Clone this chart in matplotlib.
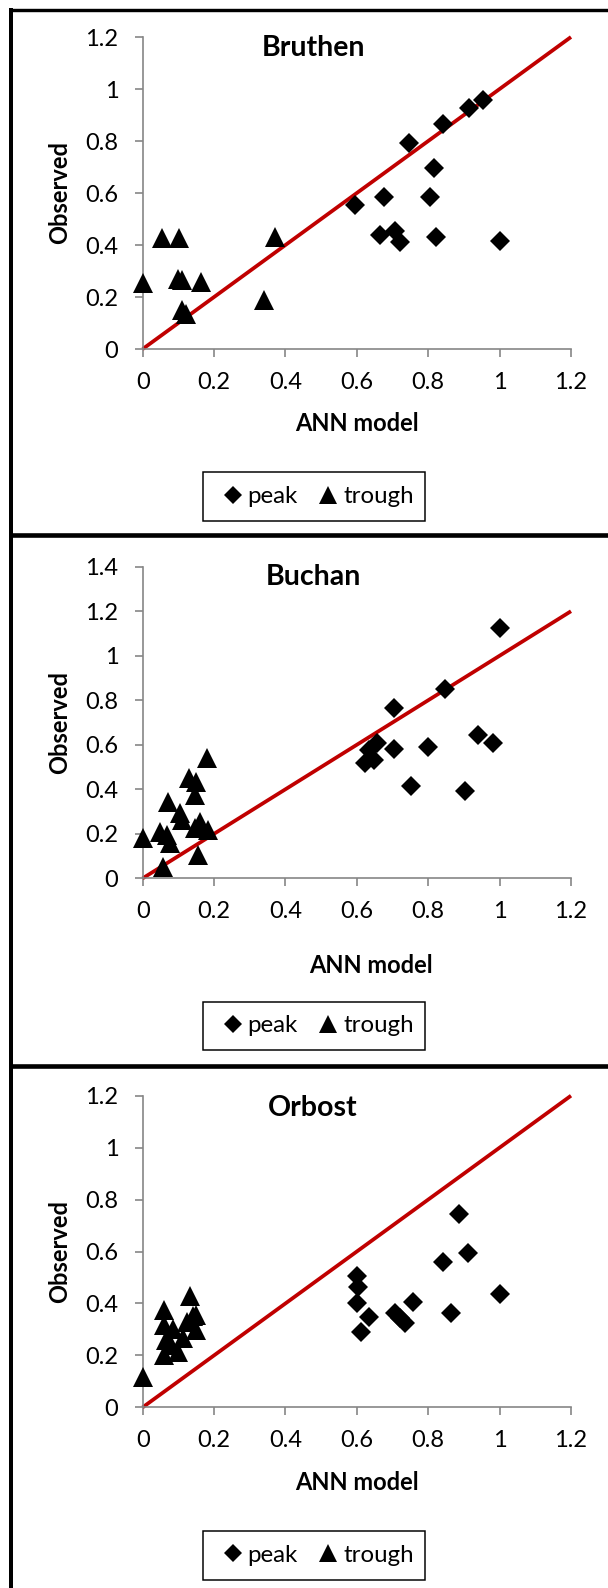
import matplotlib
matplotlib.use("Agg")
import matplotlib.pyplot as plt
from matplotlib.patches import Rectangle

plt.rcParams['font.family'] = ['Lato', 'DejaVu Sans']

# ---------------- data ----------------
titles = ["Bruthen", "Buchan", "Orbost"]

bruthen_peak_x = [0.596, 0.675, 0.664, 0.708, 0.720, 0.746, 0.805, 0.816, 0.822, 0.841, 0.914, 0.953, 1.000]
bruthen_peak_y = [0.553, 0.586, 0.438, 0.455, 0.413, 0.791, 0.583, 0.696, 0.432, 0.864, 0.928, 0.958, 0.417]
bruthen_trough_x = [0.000, 0.055, 0.103, 0.100, 0.110, 0.163, 0.109, 0.121, 0.340, 0.371]
bruthen_trough_y = [0.254, 0.426, 0.426, 0.268, 0.265, 0.259, 0.150, 0.135, 0.188, 0.432]

buchan_peak_x = [1.000, 0.848, 0.704, 0.656, 0.635, 0.624, 0.648, 0.704, 0.799, 0.753, 0.904, 0.939, 0.981]
buchan_peak_y = [1.123, 0.849, 0.763, 0.609, 0.576, 0.519, 0.531, 0.579, 0.588, 0.415, 0.394, 0.645, 0.609]
buchan_trough_x = [0.000, 0.056, 0.154, 0.179, 0.130, 0.148, 0.146, 0.070, 0.104, 0.111, 0.048, 0.067, 0.076, 0.160, 0.146, 0.184]
buchan_trough_y = [0.180, 0.052, 0.105, 0.539, 0.449, 0.434, 0.374, 0.344, 0.292, 0.262, 0.209, 0.195, 0.157, 0.254, 0.225, 0.217]

orbost_peak_x = [0.887, 0.912, 0.842, 1.000, 0.863, 0.758, 0.708, 0.735, 0.721, 0.600, 0.603, 0.600, 0.635, 0.611]
orbost_peak_y = [0.743, 0.593, 0.561, 0.435, 0.364, 0.407, 0.364, 0.323, 0.343, 0.506, 0.465, 0.403, 0.349, 0.289]
orbost_trough_x = [0.000, 0.060, 0.060, 0.065, 0.060, 0.085, 0.100, 0.114, 0.123, 0.132, 0.142, 0.150, 0.150, 0.080]
orbost_trough_y = [0.117, 0.375, 0.317, 0.260, 0.203, 0.300, 0.214, 0.266, 0.330, 0.427, 0.350, 0.356, 0.298, 0.240]

peak_x = [bruthen_peak_x, buchan_peak_x, orbost_peak_x]
peak_y = [bruthen_peak_y, buchan_peak_y, orbost_peak_y]
trough_x = [bruthen_trough_x, buchan_trough_x, orbost_trough_x]
trough_y = [bruthen_trough_y, buchan_trough_y, orbost_trough_y]

line_x = [0, 1.2]
line_y = [0, 1.2]

x_ticks = [0, 0.2, 0.4, 0.6, 0.8, 1.0, 1.2]
x_tick_labels = ["0", "0.2", "0.4", "0.6", "0.8", "1", "1.2"]
y_max = [1.2, 1.4, 1.2]
y_ticks_list = [[0, 0.2, 0.4, 0.6, 0.8, 1.0, 1.2],
                [0, 0.2, 0.4, 0.6, 0.8, 1.0, 1.2, 1.4],
                [0, 0.2, 0.4, 0.6, 0.8, 1.0, 1.2]]
y_tick_labels_list = [["0", "0.2", "0.4", "0.6", "0.8", "1", "1.2"],
                      ["0", "0.2", "0.4", "0.6", "0.8", "1", "1.2", "1.4"],
                      ["0", "0.2", "0.4", "0.6", "0.8", "1", "1.2"]]
series_labels = ["peak", "trough"]
x_label = "ANN model"
y_label = "Observed"

# ---------------- layout (pixels) ----------------
W, H = 608, 1588
DPI = 100
fig = plt.figure(figsize=(W / DPI, H / DPI), dpi=DPI)
fig.patch.set_facecolor("white")

# background overlay for panel borders and legend boxes
bg = fig.add_axes([0, 0, 1, 1], zorder=-10)
bg.set_xlim(0, W)
bg.set_ylim(H, 0)
bg.axis("off")
bg.plot([10.5, 10.5], [7.5, H], color="black", lw=4 * 72 / DPI, solid_capstyle="butt")
bg.plot([8.5, W], [9.5, 9.5], color="black", lw=3.4 * 72 / DPI, solid_capstyle="butt")
bg.plot([8.5, W], [535, 535], color="black", lw=4.6 * 72 / DPI, solid_capstyle="butt")
bg.plot([8.5, W], [1066, 1066], color="black", lw=4.6 * 72 / DPI, solid_capstyle="butt")

ax_left = 142.7
ax_right = 571.0
panels = [
    dict(bottom=349.0, top=37.0, xlab=(0.5, -0.239), title_y=48.0, leg_y=496.6),
    dict(bottom=878.3, top=566.7, xlab=(0.533, -0.281), title_y=577.0, leg_y=1025.8),
    dict(bottom=1407.3, top=1095.7, xlab=(0.5, -0.242), title_y=1107.7, leg_y=1555.4),
]
leg_box_left, leg_box_w, leg_box_h = 203.0, 222.0, 48.5

grey = "#868686"
tick_fs = 17
leg_fs = 17.3
label_fs = 17
title_fs = 20.5

for i, p in enumerate(panels):
    ax = fig.add_axes([ax_left / W, 1 - p["bottom"] / H,
                       (ax_right - ax_left) / W, (p["bottom"] - p["top"]) / H])
    ax.set_xlim(0, 1.2)
    ax.set_ylim(0, y_max[i])
    ax.set_facecolor("none")
    for s in ["top", "right"]:
        ax.spines[s].set_visible(False)
    for s in ["left", "bottom"]:
        ax.spines[s].set_color(grey)
        ax.spines[s].set_linewidth(1.2)
    ax.set_xticks(x_ticks)
    ax.set_xticklabels(x_tick_labels)
    ax.set_yticks(y_ticks_list[i])
    ax.set_yticklabels(y_tick_labels_list[i])
    ax.tick_params(axis="both", direction="out", length=5.5, width=1.2,
                   color=grey, labelsize=tick_fs, labelcolor="black")
    ax.tick_params(axis="x", pad=11)
    ax.tick_params(axis="y", pad=12)

    ax.plot(line_x, line_y, color="#C00000", lw=2.7, zorder=2,
            solid_capstyle="butt", clip_on=False)
    hp, = ax.plot(peak_x[i], peak_y[i], linestyle="none", marker="D",
                  markersize=10.4, color="black", markeredgewidth=0,
                  clip_on=False, zorder=3, label=series_labels[0])
    ht, = ax.plot(trough_x[i], trough_y[i], linestyle="none", marker="^",
                  markersize=14.2, color="black", markeredgewidth=0,
                  clip_on=False, zorder=3, label=series_labels[1])

    tx = (313 - ax_left) / (ax_right - ax_left)
    ty = (p["bottom"] - p["title_y"]) / (p["bottom"] - p["top"])
    ax.text(tx, ty, titles[i], transform=ax.transAxes, ha="center", va="center",
            fontsize=title_fs, fontweight="bold")

    ax.set_xlabel(x_label, fontsize=label_fs, fontweight="bold", va="center")
    ax.xaxis.set_label_coords(*p["xlab"])
    ax.set_ylabel(y_label, fontsize=label_fs, fontweight="bold", va="center")
    ax.yaxis.set_label_coords((60 - ax_left) / (ax_right - ax_left), 0.5)

    # legend box
    bg.add_patch(Rectangle((leg_box_left, p["leg_y"] - leg_box_h / 2), leg_box_w, leg_box_h,
                           fill=False, edgecolor="black", lw=1.5 * 72 / DPI))
    handle_len = 0.7
    handle_px = handle_len * leg_fs * DPI / 72
    leg = ax.legend(handles=[hp, ht], loc="center left", ncol=2,
                    bbox_to_anchor=((232.7 - handle_px / 2) / W, 1 - p["leg_y"] / H),
                    bbox_transform=fig.transFigure,
                    fontsize=leg_fs, frameon=False,
                    handlelength=handle_len, handletextpad=0.27,
                    columnspacing=0.92, borderpad=0.0, markerscale=0.9,
                    borderaxespad=0)

fig.savefig("out.png", dpi=DPI, facecolor="white")
